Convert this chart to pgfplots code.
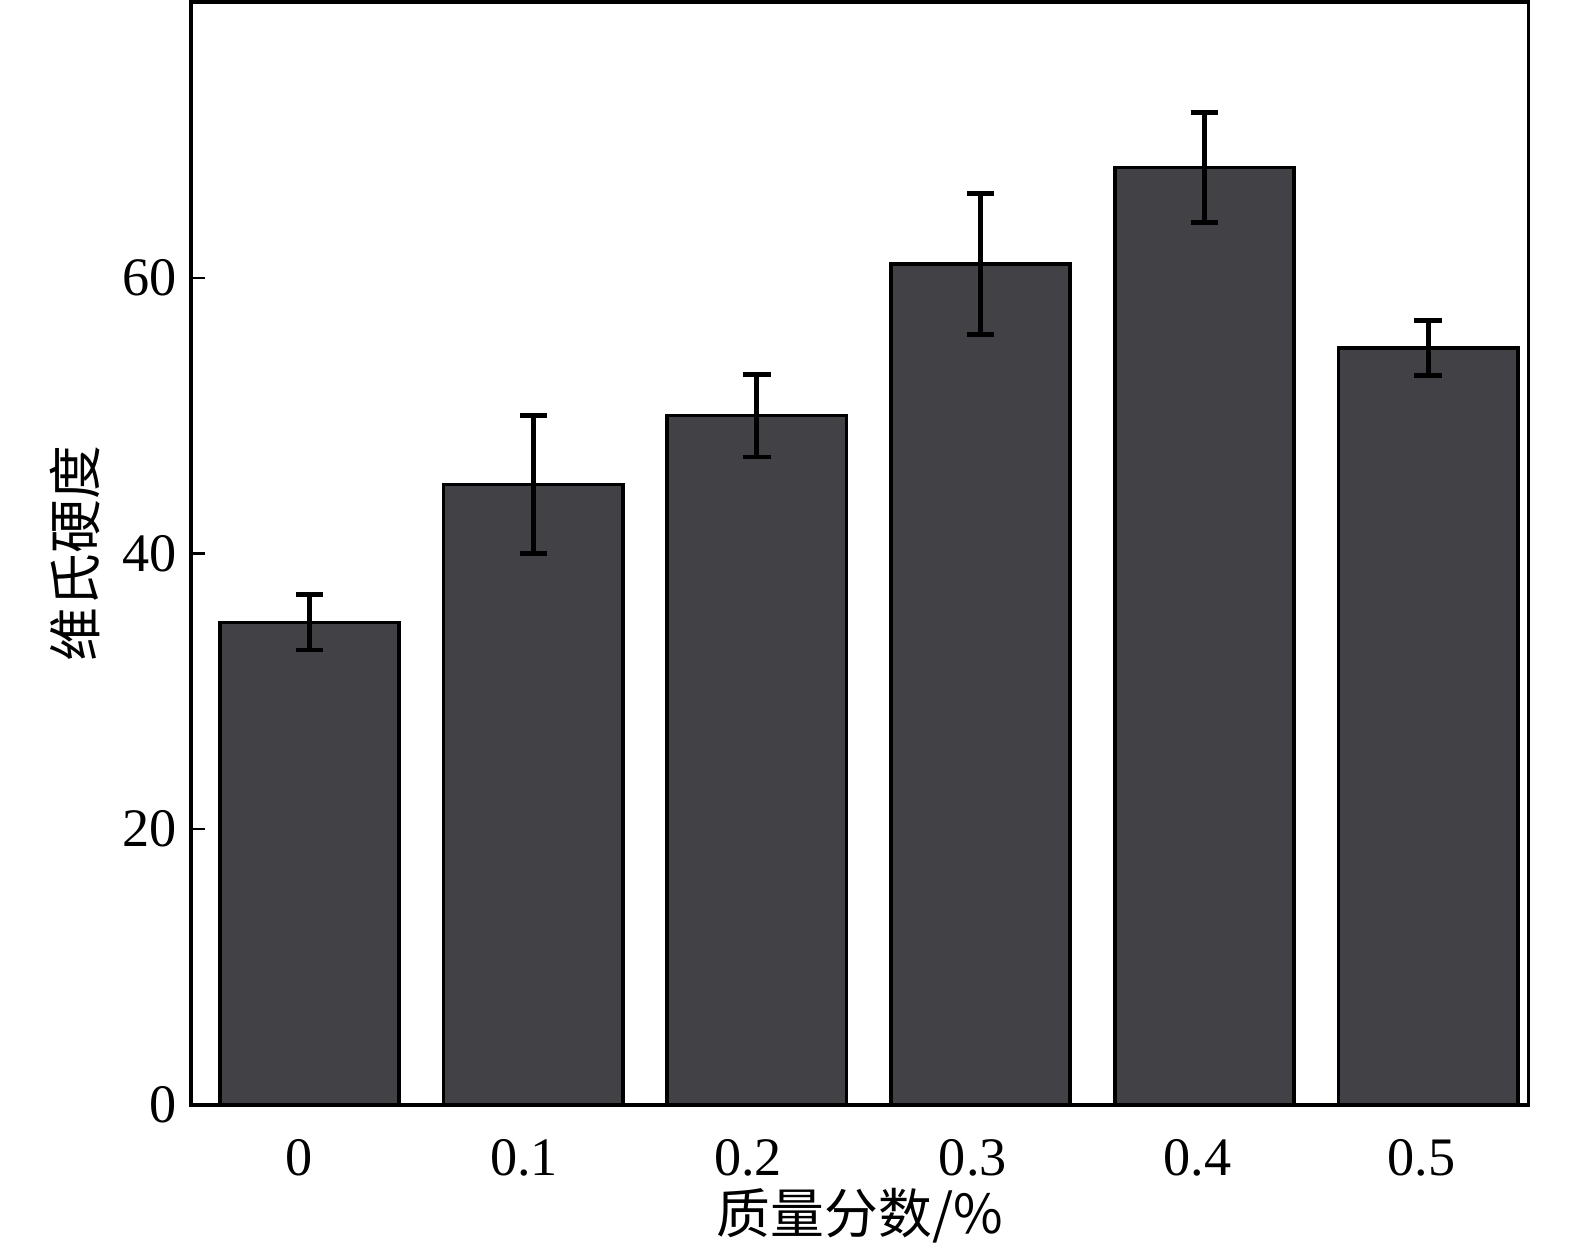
\documentclass[border=0pt]{standalone}
\usepackage{pgfplots}
\pgfplotsset{compat=1.18}
\usepackage{fontspec}
\setmainfont{Liberation Serif}
\newfontfamily\cjk{Noto Sans CJK SC}
\definecolor{barfill}{RGB}{65,65,70}
\begin{document}
\begin{tikzpicture}
\useasboundingbox (-47.5pt,-35.5pt) rectangle (344.5pt,275pt);
\begin{axis}[
  at={(0,0)}, anchor=south west,
  scale only axis,
  width=333pt, height=274.5pt,
  xmin=-0.53, xmax=5.45,
  ymin=0, ymax=80,
  axis line style={line width=0.85pt, black},
  xtick pos=bottom, ytick pos=left,
  xtick={-0.045,0.96,1.96,2.965,3.97,4.97},
  xticklabels={0,0.1,0.2,0.3,0.4,0.5},
  ytick={0,20,40,60},
  tick align=inside,
  major tick length=3.6pt,
  tick style={line width=0.6pt, black},
  /pgf/number format/assume math mode=true,
  tick label style={font=\fontsize{13.5}{16}\selectfont},
  xticklabel style={yshift=-5pt},
  label style={font=\cjk\fontsize{13.4}{16}\selectfont},
  xlabel={质量分数/\%},
  xlabel style={at={(axis description cs:0.5,0)}, anchor=center, yshift=-27.5pt},
  ylabel={维氏硬度},
  ylabel style={at={(axis description cs:-0.0863,0.5)}, anchor=center},
  clip=false,
]
\addplot[ybar, bar width=44.6pt, fill=barfill, draw=black, line width=0.9pt,
  error bars/.cd, y dir=both, y explicit,
  error bar style={line width=1.2pt, black},
  error mark options={rotate=90, mark size=3.4pt, line width=1.2pt, black}]
  coordinates {
  (0,35) +- (0,2)
  (1,45) +- (0,5)
  (2,50) +- (0,3)
  (3,61) +- (0,5.1)
  (4,68) +- (0,4)
  (5,54.9) +- (0,2)
  };
\end{axis}
\end{tikzpicture}
\end{document}
